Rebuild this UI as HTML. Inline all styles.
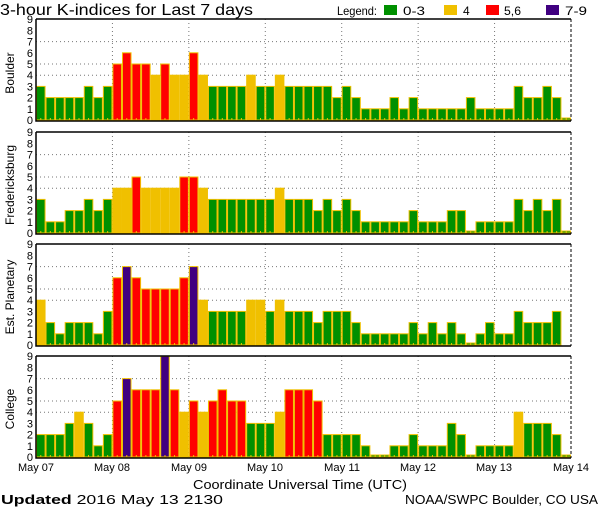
<!DOCTYPE html>
<html><head><meta charset="utf-8"><style>
html,body{margin:0;padding:0;background:#fff;width:600px;height:510px;overflow:hidden}
svg{display:block;font-family:"Liberation Sans",sans-serif}
</style></head><body>
<svg id="s" width="600" height="510" xmlns="http://www.w3.org/2000/svg">
<text x="0" y="15" font-size="16" textLength="253" lengthAdjust="spacingAndGlyphs">3-hour K-indices for Last 7 days</text>
<text x="337" y="15" font-size="12" textLength="40" lengthAdjust="spacingAndGlyphs">Legend:</text>
<rect x="384" y="5" width="13" height="10" fill="#009000"/><text x="403" y="15" font-size="12" textLength="22" lengthAdjust="spacingAndGlyphs">0-3</text>
<rect x="444" y="5" width="13" height="10" fill="#f0c000"/><text x="463" y="15" font-size="12">4</text>
<rect x="486" y="5" width="13" height="10" fill="#ff0000"/><text x="504" y="15" font-size="12" textLength="17" lengthAdjust="spacingAndGlyphs">5,6</text>
<rect x="546" y="5" width="13" height="10" fill="#400080"/><text x="565" y="15" font-size="12" textLength="22" lengthAdjust="spacingAndGlyphs">7-9</text>
<g font-size="12" text-anchor="middle">
<text transform="translate(14,73) rotate(-90)">Boulder</text>
<text transform="translate(14,185) rotate(-90)">Fredericksburg</text>
<text transform="translate(14,297) rotate(-90)">Est. Planetary</text>
<text transform="translate(14,409) rotate(-90)">College</text>
</g>
<g font-size="11" text-anchor="middle">
<text x="36" y="471" textLength="36" lengthAdjust="spacingAndGlyphs">May 07</text><text x="112" y="471" textLength="36" lengthAdjust="spacingAndGlyphs">May 08</text><text x="189" y="471" textLength="36" lengthAdjust="spacingAndGlyphs">May 09</text><text x="265" y="471" textLength="36" lengthAdjust="spacingAndGlyphs">May 10</text><text x="342" y="471" textLength="36" lengthAdjust="spacingAndGlyphs">May 11</text><text x="418" y="471" textLength="36" lengthAdjust="spacingAndGlyphs">May 12</text><text x="494" y="471" textLength="36" lengthAdjust="spacingAndGlyphs">May 13</text><text x="571" y="471" textLength="36" lengthAdjust="spacingAndGlyphs">May 14</text>
<text x="300" y="489" font-size="13" textLength="214" lengthAdjust="spacingAndGlyphs">Coordinate Universal Time (UTC)</text>
</g>
<text x="1" y="504" font-size="13" textLength="222" lengthAdjust="spacingAndGlyphs"><tspan font-weight="bold">Updated</tspan> 2016 May 13 2130</text>
<text x="405" y="504" font-size="13" textLength="193" lengthAdjust="spacingAndGlyphs">NOAA/SWPC Boulder, CO USA</text>
<g id="g"></g>
</svg>
<script>
var D=[
[3,2,2,2,2,3,2,3, 5,6,5,5,4,5,4,4, 6,4,3,3,3,3,4,3, 3,4,3,3,3,3,3,2, 3,2,1,1,1,2,1,2, 1,1,1,1,1,2,1,1, 1,1,3,2,2,3,2,0],
[3,1,1,2,2,3,2,3, 4,4,5,4,4,4,4,5, 5,4,3,3,3,3,3,3, 3,4,3,3,3,2,3,2, 3,2,1,1,1,1,1,2, 1,1,1,2,2,0,1,1, 1,1,3,2,3,2,3,0],
[4,2,1,2,2,2,1,3, 6,7,6,5,5,5,5,6, 7,4,3,3,3,3,4,4, 3,4,3,3,3,2,3,3, 3,2,1,1,1,1,1,2, 1,2,1,2,1,0,1,2, 1,1,3,2,2,2,3,-1],
[2,2,2,3,4,3,1,2, 5,7,6,6,6,9,6,4, 5,4,5,6,5,5,3,3, 3,4,6,6,6,5,2,2, 2,2,1,0,0,1,1,2, 1,1,1,3,2,0,1,1, 1,1,4,3,3,3,2,0]];
var tops=[19,132,244,356],L=36,R=571,bw=(R-L)/56,u=11.2,h='';
function col(v){return v<=3?'#009000':v==4?'#f0c000':v<=6?'#ff0000':'#400080'}
D.forEach(function(d,p){var t=tops[p],b=t+101;
 [4,5,7].forEach(function(k){var y=b-k*u;h+='<line x1="'+L+'" x2="'+R+'" y1="'+y+'" y2="'+y+'" stroke="#777" stroke-dasharray="1,3"/>'});
 for(var i=1;i<7;i++){var x=L+i*8*bw;h+='<line x1="'+x+'" x2="'+x+'" y1="'+t+'" y2="'+b+'" stroke="#777" stroke-dasharray="1,3"/>'}
 d.forEach(function(v,i){if(v<0)return;var x=L+i*bw,hh=v==0?2:v*u;h+='<rect x="'+(x+0.5)+'" y="'+(b-hh)+'" width="'+(bw-1)+'" height="'+hh+'" fill="'+col(v)+'" stroke="#f0c000" stroke-width="1"/>';
  h+='<rect x="'+(x+bw/2-0.5)+'" y="'+(b-2)+'" width="1" height="2" fill="#f0c000"/>'});
 h+='<path d="M'+L+' '+t+'V'+(b+1)+'H'+R+'M'+L+' '+t+'H'+R+'" stroke="#000" stroke-width="1.5" fill="none"/>';
 h+='<line x1="'+R+'" x2="'+R+'" y1="'+t+'" y2="'+(b+1)+'" stroke="#000" stroke-dasharray="3,2"/>';
 for(var k=0;k<=9;k++)h+='<text x="33" y="'+(b-k*u+4)+'" font-size="11" text-anchor="end">'+k+'</text>';
});
document.getElementById('g').innerHTML=h;
</script>
</body></html>
